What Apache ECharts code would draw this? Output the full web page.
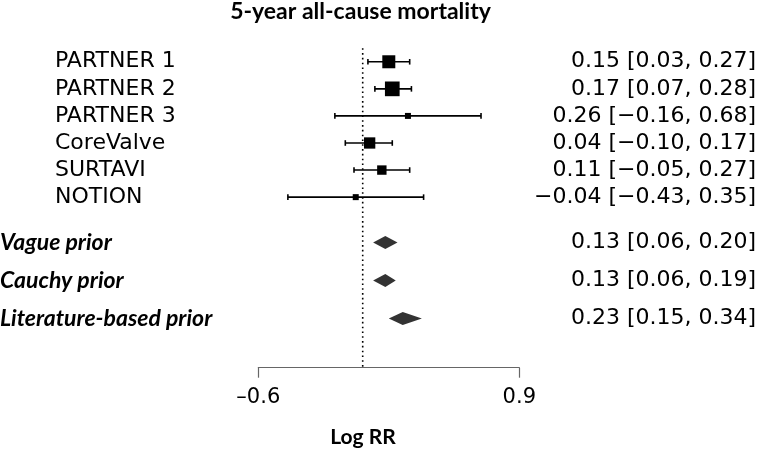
<!DOCTYPE html>
<html>
<head>
<meta charset="utf-8">
<script src="https://cdn.jsdelivr.net/npm/echarts@6/dist/echarts.min.js"></script>
<style>html,body{margin:0;padding:0;background:#fff;}#c{width:757px;height:450px;}</style>
</head>
<body>
<div id="c"></div>
<script>
const studies = ['PARTNER 1', 'PARTNER 2', 'PARTNER 3', 'CoreValve', 'SURTAVI', 'NOTION'];
const studyEst = [0.15, 0.17, 0.26, 0.04, 0.11, -0.04];
const studyLow = [0.03, 0.07, -0.16, -0.10, -0.05, -0.43];
const studyHigh = [0.27, 0.28, 0.68, 0.17, 0.27, 0.35];
const priors = ['Vague prior', 'Cauchy prior', 'Literature-based prior'];
const priorEst = [0.13, 0.13, 0.23];
const priorLow = [0.06, 0.06, 0.15];
const priorHigh = [0.20, 0.19, 0.34];
const xTicks = [-0.6, 0.9];
const titleText = '5-year all-cause mortality';
const xName = 'Log RR';

// styling
const boxSizes = [13, 14.7, 6, 11.3, 9.4, 6];
const REG = 'DejaVu Sans';
const BOLD = 'Lato';
const FS = 22;

function fmt(v) { return (v < 0 ? '\u2212' : '') + Math.abs(v).toFixed(2); }

const studyRows = studies.map((s, i) => i + 1);
const priorRows = priors.map((s, j) => 7.68 + 1.4 * j);

const studyData = studies.map((s, i) => [studyEst[i], studyLow[i], studyHigh[i], studyRows[i], i]);
const priorData = priors.map((s, j) => [priorEst[j], priorLow[j], priorHigh[j], priorRows[j], j]);

const chart = echarts.init(document.getElementById('c'), null, {renderer: 'canvas'});
chart.setOption({
  animation: false,
  backgroundColor: '#fff',
  grid: {left: 258.3, right: 757 - 519.3, top: 34.7, bottom: 450 - 367.7, containLabel: false},
  xAxis: {
    type: 'value', min: xTicks[0], max: xTicks[1], interval: xTicks[1] - xTicks[0],
    position: 'bottom',
    splitLine: {show: false},
    axisLine: {show: true, onZero: false, lineStyle: {color: '#666', width: 1.2}},
    axisTick: {show: true, length: 10, lineStyle: {color: '#666', width: 1.2}},
    axisLabel: {
      margin: 19, fontFamily: REG, fontSize: 21, color: '#000',
      formatter: v => (v < 0 ? '\u2013' : '') + Math.abs(v).toFixed(1)
    }
  },
  yAxis: {type: 'value', min: 0, max: 12.3, inverse: true, show: false},
  graphic: [
    {type: 'text', x: 360.5, y: 12, style: {text: titleText, fontFamily: BOLD, fontWeight: 'bold', fontSize: 23, fill: '#000', align: 'center', verticalAlign: 'middle'}},
    {type: 'text', x: 363, y: 437, style: {text: xName, fontFamily: BOLD, fontWeight: 'bold', fontSize: 21, fill: '#000', align: 'center', verticalAlign: 'middle'}}
  ],
  series: [
    {
      type: 'custom',
      data: [[0]],
      encode: {x: 0},
      silent: true,
      renderItem: function (params, api) {
        const top = api.coord([0, 0.5]);
        const bot = api.coord([0, 12.3]);
        return {type: 'line', shape: {x1: top[0], y1: top[1], x2: bot[0], y2: bot[1]},
          style: {stroke: '#000', lineWidth: 1.6, lineDash: [1.6, 3.2]}};
      },
      z: 1
    },
    {
      type: 'custom',
      data: studyData,
      encode: {x: [0, 1, 2], y: 3},
      silent: true,
      renderItem: function (params, api) {
        const i = api.value(4);
        const pe = api.coord([api.value(0), api.value(3)]);
        const pl = api.coord([api.value(1), api.value(3)]);
        const ph = api.coord([api.value(2), api.value(3)]);
        const y = pe[1];
        const s = boxSizes[i];
        const capH = 2.8;
        const st = {stroke: '#000', lineWidth: 1.6};
        return {type: 'group', children: [
          {type: 'line', shape: {x1: pl[0], y1: y, x2: ph[0], y2: y}, style: st},
          {type: 'line', shape: {x1: pl[0], y1: y - capH, x2: pl[0], y2: y + capH}, style: st},
          {type: 'line', shape: {x1: ph[0], y1: y - capH, x2: ph[0], y2: y + capH}, style: st},
          {type: 'rect', shape: {x: pe[0] - s / 2, y: y - s / 2, width: s, height: s}, style: {fill: '#000'}},
          {type: 'text', x: 55, y: y, style: {text: studies[i], fontFamily: REG, fontSize: FS, fill: '#000', align: 'left', verticalAlign: 'middle'}},
          {type: 'text', x: 756, y: y, style: {text: fmt(studyEst[i]) + ' [' + fmt(studyLow[i]) + ', ' + fmt(studyHigh[i]) + ']', fontFamily: REG, fontSize: FS, fill: '#000', align: 'right', verticalAlign: 'middle'}}
        ]};
      },
      z: 2
    },
    {
      type: 'custom',
      data: priorData,
      encode: {x: [0, 1, 2], y: 3},
      silent: true,
      renderItem: function (params, api) {
        const j = api.value(4);
        const pe = api.coord([api.value(0), api.value(3)]);
        const pl = api.coord([api.value(1), api.value(3)]);
        const ph = api.coord([api.value(2), api.value(3)]);
        const y = pe[1];
        const h = 6.5;
        return {type: 'group', children: [
          {type: 'polygon', shape: {points: [[pl[0], y], [pe[0], y - h], [ph[0], y], [pe[0], y + h]]}, style: {fill: '#333'}},
          {type: 'text', x: 0, y: y, style: {text: priors[j], fontFamily: BOLD, fontWeight: 'bold', fontStyle: 'italic', fontSize: 23, fill: '#000', align: 'left', verticalAlign: 'middle'}},
          {type: 'text', x: 756, y: y, style: {text: fmt(priorEst[j]) + ' [' + fmt(priorLow[j]) + ', ' + fmt(priorHigh[j]) + ']', fontFamily: REG, fontSize: FS, fill: '#000', align: 'right', verticalAlign: 'middle'}}
        ]};
      },
      z: 2
    }
  ]
});
</script>
</body>
</html>
